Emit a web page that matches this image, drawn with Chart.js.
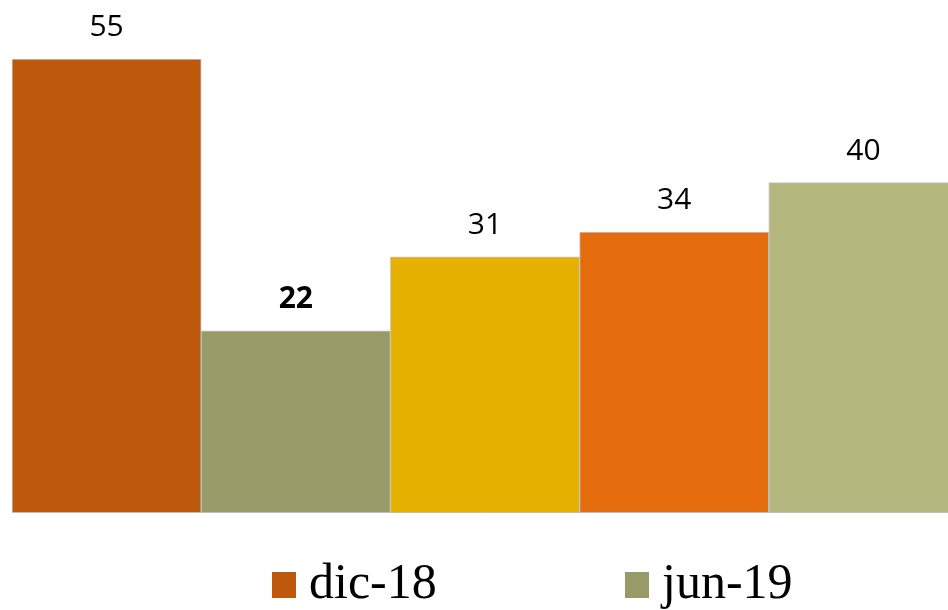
<!DOCTYPE html>
<html>
<head>
<meta charset="utf-8">
<script src="https://cdn.jsdelivr.net/npm/chart.js@4"></script>
<style>
  html, body { margin: 0; padding: 0; background: #fff; overflow: hidden; }
  #wrap { width: 948px; height: 610px; overflow: hidden; }
</style>
</head>
<body>
<div id="wrap"><canvas id="bars" width="958" height="610"></canvas></div>
<script>
const categories = ["a", "b", "c", "d", "e"];
const values = [55, 22, 31, 34, 40];
const barColors = ["#BE580A", "#989A68", "#E6B000", "#E46C0C", "#B5B87E"];
const boldLabel = [false, true, false, false, false];
const legendNames = ["dic-18", "jun-19"];
const legendColors = ["#BE580A", "#989A68"];

// value labels above the bars, placed from the bar elements
const valueLabels = {
  id: "valueLabels",
  afterDatasetsDraw(chart) {
    const ctx = chart.ctx;
    const meta = chart.getDatasetMeta(0);
    ctx.save();
    ctx.fillStyle = "#000";
    ctx.textAlign = "center";
    ctx.textBaseline = "alphabetic";
    meta.data.forEach((bar, i) => {
      ctx.font = (boldLabel[i] ? "bold " : "") + "30px 'Open Sans'";
      ctx.fillText(String(values[i]), bar.x, bar.y - 23);
    });
    ctx.restore();
  }
};

// legend with only the two period names
const periodLegend = {
  id: "periodLegend",
  afterDraw(chart) {
    const ctx = chart.ctx;
    const xs = [272, 625];
    ctx.save();
    ctx.font = "50px 'Liberation Serif'";
    ctx.textBaseline = "alphabetic";
    legendNames.forEach((name, i) => {
      ctx.fillStyle = legendColors[i];
      ctx.fillRect(xs[i], 572, 24, 26);
      ctx.fillStyle = "#000";
      ctx.fillText(name, xs[i] + 37, 598);
    });
    ctx.restore();
  }
};

new Chart("bars", {
  type: "bar",
  data: {
    labels: categories,
    datasets: [{
      data: values,
      backgroundColor: barColors,
      borderColor: "#c4c4c4",
      borderWidth: 1,
      categoryPercentage: 1,
      barPercentage: 1
    }]
  },
  options: {
    responsive: false,
    animation: false,
    layout: { padding: { left: 12, right: 0, top: 18, bottom: 90 } },
    scales: {
      x: {
        ticks: { display: false },
        grid: { display: false },
        border: { color: "#bdbdbd", width: 1 }
      },
      y: {
        display: false,
        min: 0,
        max: 60
      }
    },
    plugins: {
      legend: { display: false },
      tooltip: { enabled: false }
    }
  },
  plugins: [valueLabels, periodLegend]
});
</script>
</body>
</html>
